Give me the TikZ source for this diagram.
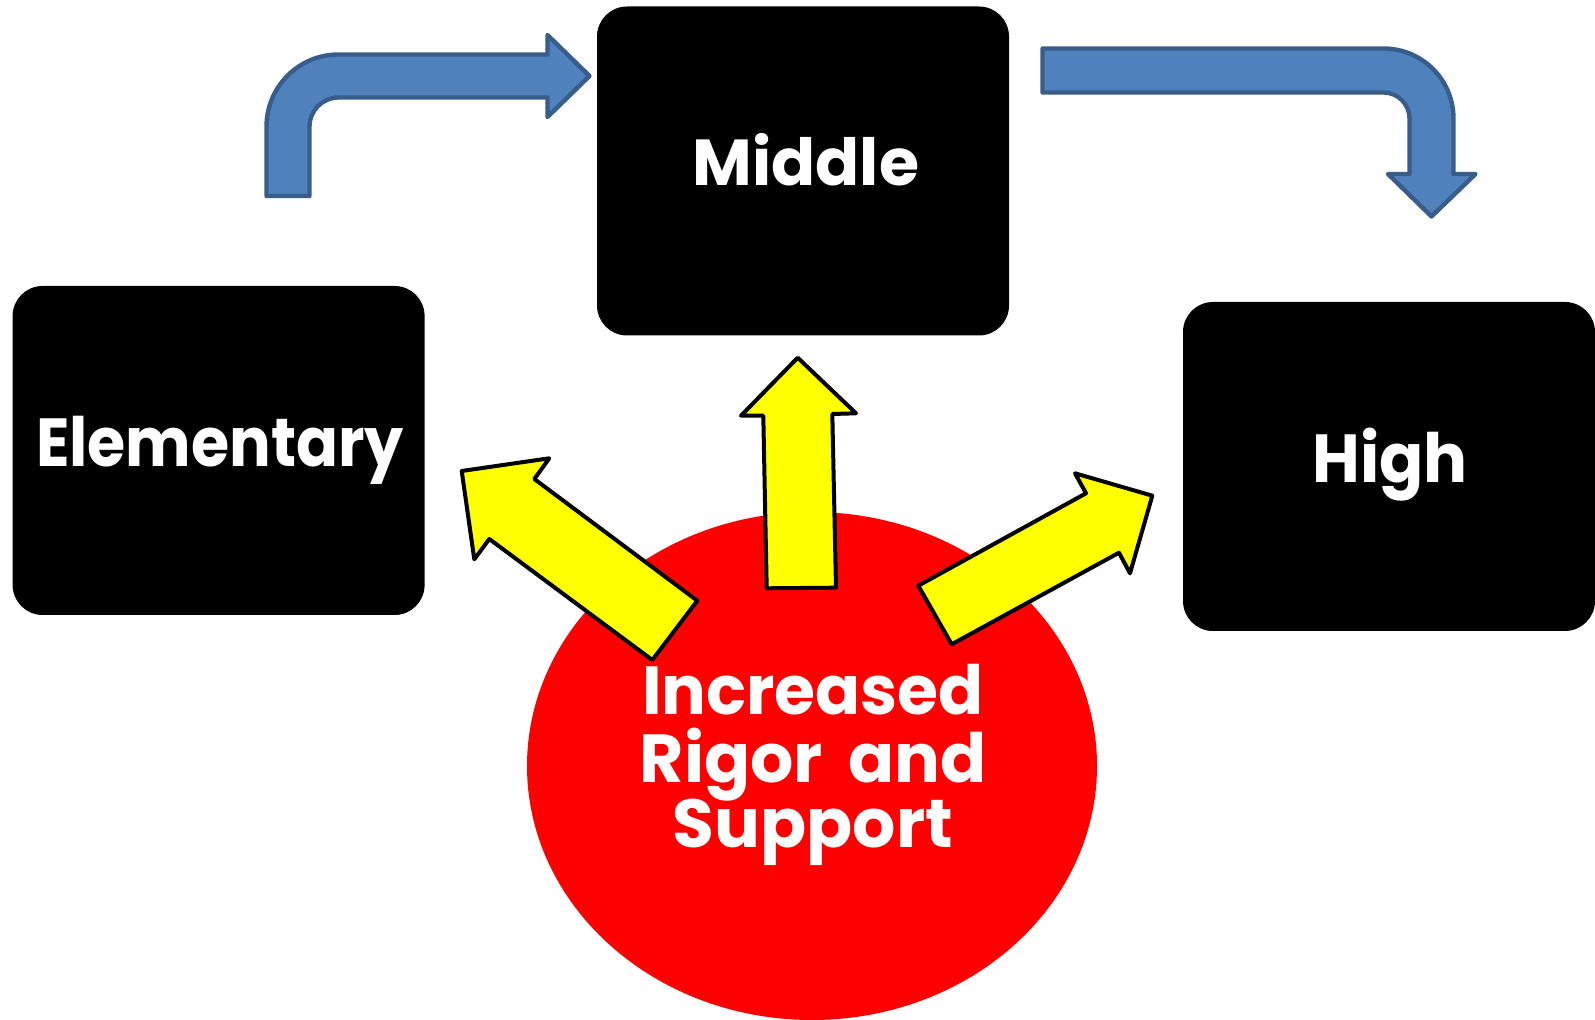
\documentclass[tikz,border=0pt]{standalone}
\usepackage{graphicx}
\usepackage{fontspec}
\setmainfont{Poppins}
\usetikzlibrary{shapes.geometric}
\definecolor{bfill}{HTML}{4F81BD}
\definecolor{bline}{HTML}{385D8A}
\definecolor{yfill}{HTML}{FFFF00}
\definecolor{rfill}{HTML}{FF0000}
\newcommand\hsquash[2]{\scalebox{#1}[1]{#2}}
\tikzset{
  schoolbox/.style={fill=black, draw=none, rounded corners=15pt, minimum width=206pt, minimum height=164.5pt, inner sep=0pt},
  lbl/.style={text=white, font=\fontsize{34}{40}\selectfont\bfseries, inner sep=0pt, anchor=base},
  bluearrow/.style={fill=bfill, draw=bline, line width=2.2pt, line join=round},
  yelarrow/.style={fill=yfill, draw=black, line width=2pt, line join=round},
}
\begin{document}
\begin{tikzpicture}[x=0.5pt, y=-0.5pt]
\useasboundingbox (0,0) rectangle (1595,1020);
% boxes
\node[schoolbox] (elem) at (218.6,450.5) {};
\node[schoolbox] (mid) at (803,171) {};
\node[schoolbox] (high) at (1389,466.5) {};
% ellipse
\node[ellipse, fill=rfill, minimum width=285pt, minimum height=254pt, inner sep=0pt] (rigor) at (812,766) {};
% blue bent arrows
\draw[bluearrow] (266.5,196) -- (266.5,126.5) arc[start angle=180,end angle=270,radius=72]
  -- (547.5,54.5) -- (547.5,35) -- (589.5,76) -- (547.5,117) -- (547.5,97.5) -- (338.5,97.5)
  arc[start angle=270,end angle=180,radius=29] -- (309.5,196) -- cycle;
\draw[bluearrow] (1042.5,48.5) -- (1383.5,48.5) arc[start angle=270,end angle=360,radius=70]
  -- (1453.5,174) -- (1475.5,174) -- (1431.5,216.5) -- (1388,174) -- (1409.5,174) -- (1409.5,118.5)
  arc[start angle=0,end angle=-90,radius=26] -- (1042.5,92.5) -- cycle;
% yellow arrows
\draw[yelarrow] (697.3,600.7) -- (534.3,479) -- (549.3,458.3) -- (461.7,471) -- (474.3,559.3) -- (489.3,539) -- (652.3,660) -- cycle;
\draw[yelarrow] (766.7,588.3) -- (763.3,415.7) -- (741,415.7) -- (797.7,357.7) -- (856,413.3) -- (832.3,414) -- (836,587.7) -- cycle;
\draw[yelarrow] (918.3,585.7) -- (1086,493.3) -- (1075,473.3) -- (1152.3,495.7) -- (1130,573.3) -- (1119,552.7) -- (951.7,644.3) -- cycle;
% labels
\node[lbl] (elemtxt) at (220,467) {\hsquash{0.91}{Elementary}};
\node[lbl, font=\fontsize{32.5}{38}\selectfont\bfseries] (midtxt) at (806,186) {Middle};
\node[lbl] (hightxt) at (1390,483) {\hsquash{0.96}{High}};
\node[lbl] (t1) at (813,715) {\hsquash{0.976}{Increased}};
\node[lbl] (t2) at (813,782) {Rigor\hspace{5.5pt} and};
\node[lbl] (t3) at (813,847) {Support};
\end{tikzpicture}
\end{document}
